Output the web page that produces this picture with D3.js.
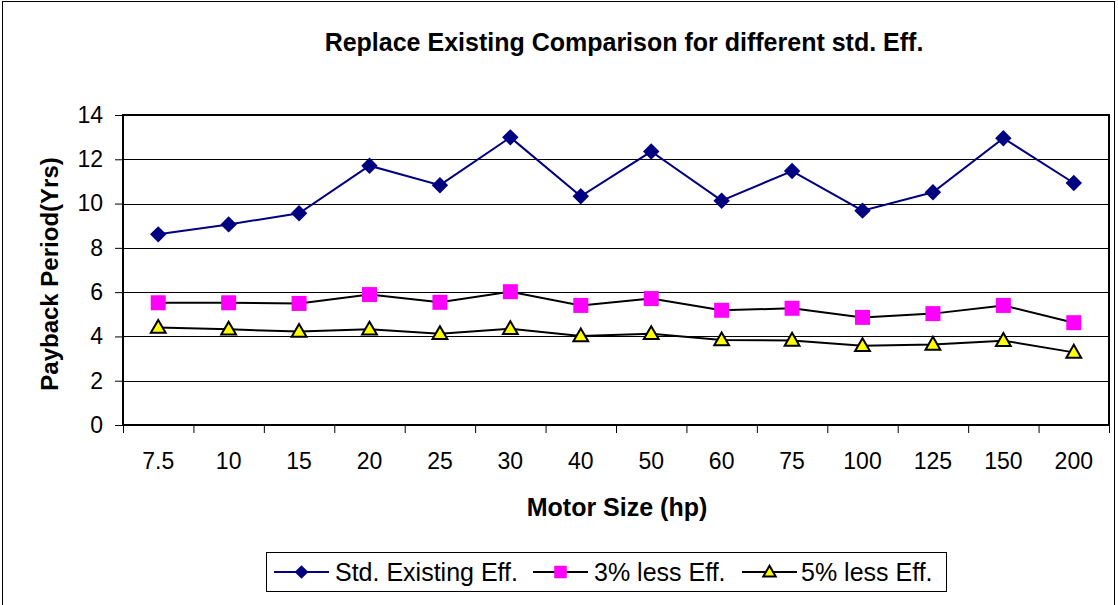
<!DOCTYPE html>
<html>
<head>
<meta charset="utf-8">
<script src="https://cdn.jsdelivr.net/npm/d3@7"></script>
<style>
  body { margin: 0; background: #fff; }
  text { font-family: "Liberation Sans", Arial, sans-serif; }
</style>
</head>
<body>
<script>
// motor sizes (hp)
const sizes = ["7.5", "10", "15", "20", "25", "30", "40", "50", "60", "75", "100", "125", "150", "200"];
// payback period in years
const stdExisting = [8.61, 9.06, 9.56, 11.71, 10.83, 12.99, 10.33, 12.35, 10.13, 11.47, 9.68, 10.51, 12.95, 10.93];
const less3 = [5.52, 5.52, 5.49, 5.89, 5.54, 6.02, 5.40, 5.71, 5.18, 5.27, 4.86, 5.03, 5.40, 4.62];
const less5 = [4.40, 4.32, 4.22, 4.32, 4.12, 4.35, 4.02, 4.12, 3.84, 3.82, 3.58, 3.64, 3.81, 3.28];
const yTicks = [0, 2, 4, 6, 8, 10, 12, 14];

const wSvg = 1118, hSvg = 605;
const pLeft = 123, pRight = 1109, pTop = 115, pBottom = 425;

const svg = d3.select("body").append("svg")
    .attr("width", wSvg)
    .attr("height", hSvg);

// outer chart border
svg.append("rect")
    .attr("x", 2.5).attr("y", 1.5)
    .attr("width", 1112).attr("height", 610)
    .attr("fill", "#fff")
    .attr("stroke", "#000")
    .attr("stroke-width", 1);

const x = d3.scaleBand(sizes, [pLeft, pRight]);
const xEdge = d3.scaleLinear([0, sizes.length], [pLeft, pRight]);
const y = d3.scaleLinear([0, 14], [pBottom, pTop]);
const cx = d => x(d) + x.bandwidth() / 2;

// gridlines
svg.append("g")
    .selectAll("line")
    .data(yTicks.slice(1, -1))
    .enter()
    .append("line")
    .attr("x1", pLeft).attr("x2", pRight)
    .attr("y1", d => Math.round(y(d)) + 0.5)
    .attr("y2", d => Math.round(y(d)) + 0.5)
    .attr("stroke", "#000")
    .attr("stroke-width", 1);

// plot frame
svg.append("rect")
    .attr("x", pLeft).attr("y", pTop)
    .attr("width", pRight - pLeft).attr("height", pBottom - pTop)
    .attr("fill", "none")
    .attr("stroke", "#000")
    .attr("stroke-width", 2);

// y axis
const yAxis = svg.append("g")
    .attr("transform", `translate(${pLeft}, 0)`)
    .call(d3.axisLeft(y).tickValues(yTicks).tickSize(8).tickSizeOuter(0).tickPadding(12));
yAxis.select(".domain").remove();
yAxis.selectAll("line").attr("stroke", "#000").attr("stroke-width", 1);
yAxis.selectAll("text")
    .attr("font-size", 23)
    .attr("fill", "#000")
    .attr("font-family", "Liberation Sans, Arial, sans-serif");

// x axis: ticks on category boundaries
const xTickAxis = svg.append("g")
    .attr("transform", `translate(0, ${pBottom})`)
    .call(d3.axisBottom(xEdge).ticks(sizes.length).tickSize(8).tickSizeOuter(0).tickFormat(""));
xTickAxis.select(".domain").remove();
xTickAxis.selectAll("line").attr("stroke", "#000").attr("stroke-width", 1);

const xLabels = svg.append("g")
    .attr("transform", `translate(0, ${pBottom})`)
    .call(d3.axisBottom(x).tickSize(0).tickPadding(28));
xLabels.select(".domain").remove();
xLabels.selectAll("text")
    .attr("font-size", 23)
    .attr("fill", "#000")
    .attr("font-family", "Liberation Sans, Arial, sans-serif");

// titles
svg.append("text")
    .attr("x", 624).attr("y", 51)
    .attr("text-anchor", "middle")
    .attr("font-size", 25)
    .attr("font-weight", "bold")
    .text("Replace Existing Comparison for different std. Eff.");

svg.append("text")
    .attr("x", 617).attr("y", 516)
    .attr("text-anchor", "middle")
    .attr("font-size", 25)
    .attr("font-weight", "bold")
    .text("Motor Size (hp)");

svg.append("text")
    .attr("transform", "translate(58, 274) rotate(-90)")
    .attr("text-anchor", "middle")
    .attr("font-size", 24)
    .attr("font-weight", "bold")
    .text("Payback Period(Yrs)");

// series
const series = [
    { name: "Std. Existing Eff.", values: stdExisting, line: "#000080", sym: d3.symbolSquare, rot: 45, fill: "#000080", stroke: "none", size: 135, dy: 0 },
    { name: "3% less Eff.", values: less3, line: "#000", sym: d3.symbolSquare, rot: 0, fill: "#FF00FF", stroke: "none", size: 225, dy: 0 },
    { name: "5% less Eff.", values: less5, line: "#000", sym: d3.symbolTriangle, rot: 0, fill: "#FFFF00", stroke: "#000", size: 95, dy: 1 }
];

const lineMaker = d3.line()
    .x(d => cx(d.size))
    .y(d => y(d.v));

for (let s of series) {
    const pts = sizes.map((c, i) => ({ size: c, v: s.values[i] }));
    svg.append("path")
        .datum(pts)
        .attr("fill", "none")
        .attr("stroke", s.line)
        .attr("stroke-width", 2)
        .attr("d", lineMaker);
    svg.append("g")
        .selectAll("path")
        .data(pts)
        .enter()
        .append("path")
        .attr("transform", d => `translate(${cx(d.size)}, ${y(d.v) + s.dy}) rotate(${s.rot})`)
        .attr("d", d3.symbol(s.sym, s.size))
        .attr("fill", s.fill)
        .attr("stroke", s.stroke)
        .attr("stroke-width", 2);
}

// legend
const legend = svg.append("g");
legend.append("rect")
    .attr("x", 266.5).attr("y", 552.5)
    .attr("width", 680).attr("height", 39)
    .attr("fill", "#fff")
    .attr("stroke", "#000")
    .attr("stroke-width", 1);

const legendPos = [
    { x1: 274, x2: 329, tx: 335 },
    { x1: 533, x2: 588, tx: 594 },
    { x1: 742, x2: 797, tx: 801 }
];
const ly = 572;
series.forEach((s, i) => {
    const p = legendPos[i];
    legend.append("line")
        .attr("x1", p.x1).attr("x2", p.x2)
        .attr("y1", ly).attr("y2", ly)
        .attr("stroke", s.line)
        .attr("stroke-width", 2);
    legend.append("path")
        .attr("transform", `translate(${(p.x1 + p.x2) / 2}, ${ly + s.dy}) rotate(${s.rot})`)
        .attr("d", d3.symbol(s.sym, s.size * 0.7))
        .attr("fill", s.fill)
        .attr("stroke", s.stroke)
        .attr("stroke-width", 2);
    legend.append("text")
        .attr("x", p.tx).attr("y", ly + 9)
        .attr("font-size", 25)
        .text(s.name);
});
</script>
</body>
</html>
